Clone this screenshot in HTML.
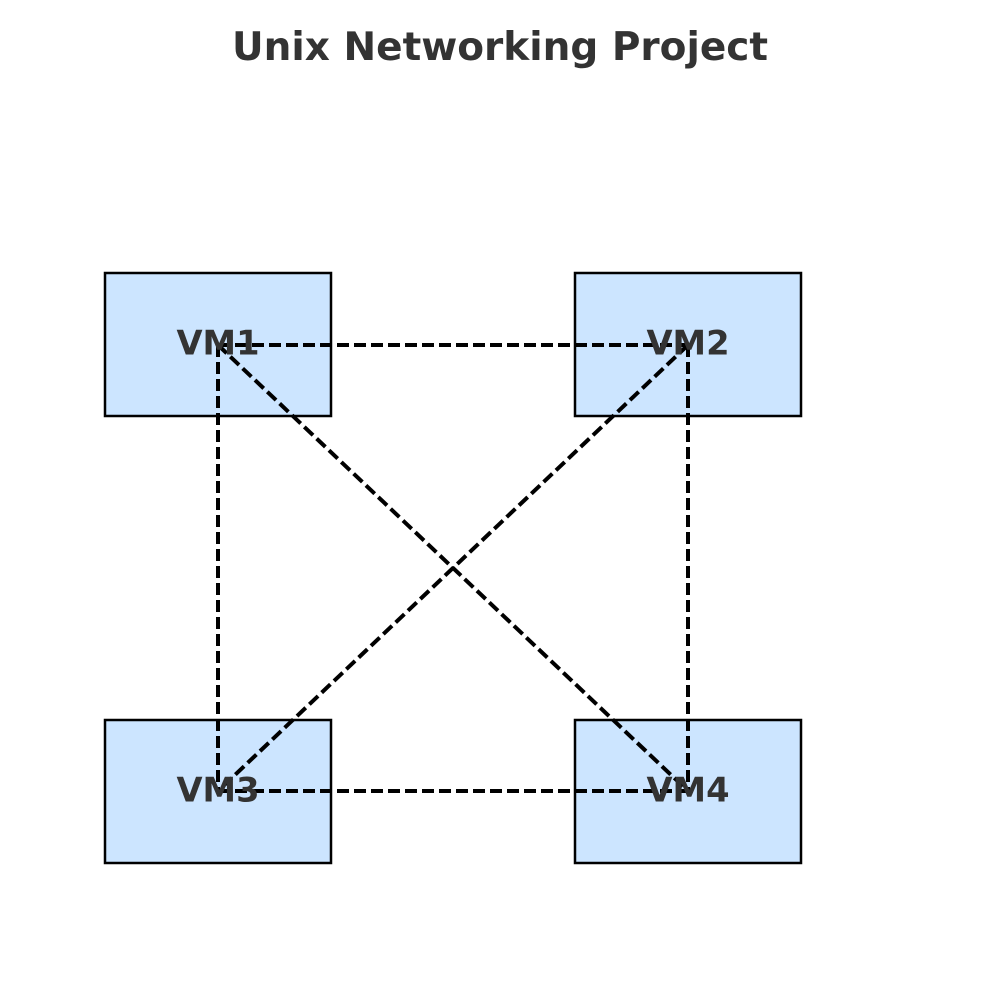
<!DOCTYPE html>
<html><head><style>body{margin:0;background:#fff}</style></head><body>
<svg width="1000" height="1000" xmlns="http://www.w3.org/2000/svg">
<rect width="1000" height="1000" fill="#fff"/>
<text x="500" y="60" text-anchor="middle" font-family="DejaVu Sans, sans-serif" font-weight="bold" font-size="39" fill="#333">Unix Networking Project</text>
<g fill="#cce5ff" stroke="#000" stroke-width="2.5">
<rect x="105" y="273" width="226" height="143"/>
<rect x="575" y="273" width="226" height="143"/>
<rect x="105" y="720" width="226" height="143"/>
<rect x="575" y="720" width="226" height="143"/>
</g>
<g stroke="#000" stroke-width="4" stroke-dasharray="12 5" fill="none">
<line x1="218" y1="345" x2="688" y2="345"/>
<line x1="218" y1="345" x2="218" y2="791"/>
<line x1="218" y1="345" x2="688" y2="791"/>
<line x1="688" y1="345" x2="218" y2="791"/>
<line x1="688" y1="345" x2="688" y2="791"/>
<line x1="218" y1="791" x2="688" y2="791"/>
</g>
<g font-family="DejaVu Sans, sans-serif" font-weight="bold" font-size="33.7" fill="#333" text-anchor="middle">
<text x="218" y="354.5">VM1</text>
<text x="688" y="354.5">VM2</text>
<text x="218" y="801.5">VM3</text>
<text x="688" y="801.5">VM4</text>
</g>
</svg>
</body></html>
